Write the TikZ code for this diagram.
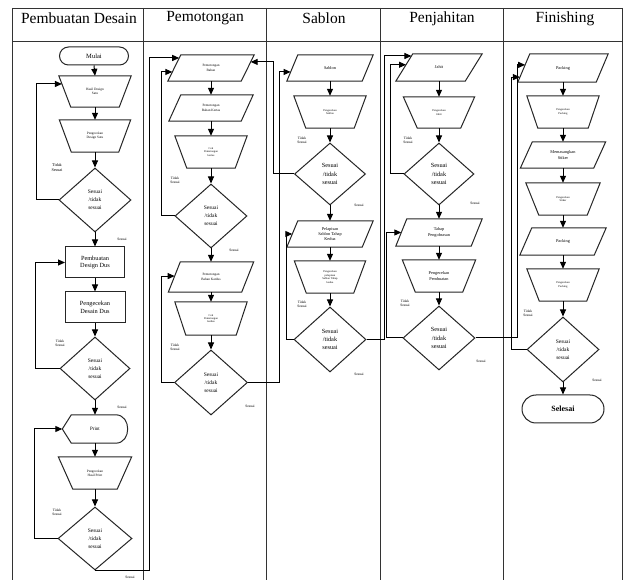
\documentclass[tikz,border=0pt]{standalone}
\usepackage{fontspec}
\setmainfont{Liberation Serif}
\usetikzlibrary{shapes.geometric,arrows.meta,calc}
\newcommand\trapout[2]{\draw[shp] (#1.north west) -- (#1.north east) -- ([xshift=-#2pt]#1.south east) -- ([xshift=#2pt]#1.south west) -- cycle;}
\newcommand\parout[2]{\draw[shp] ([xshift=#2pt]#1.north west) -- (#1.north east) -- ([xshift=-#2pt]#1.south east) -- (#1.south west) -- cycle;}
\begin{document}
\begin{tikzpicture}[x=1pt,y=-1pt,
  frame/.style={line width=0.9pt,draw=black!80},
  shp/.style={line width=1pt,draw=black!85},
  arr/.style={line width=1pt,draw=black,-{Triangle[length=7pt,width=6pt]}},
  box/.style={rectangle,draw=none,inner sep=0pt,align=center},
  rbox/.style={rectangle,draw=black!85,line width=1pt,inner sep=0pt,align=center},
  dia/.style={diamond,draw=black!85,line width=1pt,inner sep=0pt,align=center},
  term/.style={rectangle,draw=black!85,line width=1pt,inner sep=0pt,align=center},
  lbl/.style={inner sep=0pt,align=center,font=\fontsize{3.6}{4.3}\selectfont},
  hd/.style={inner sep=0pt,font=\fontsize{15.5}{18}\selectfont},
  fa/.style={font=\fontsize{2.8}{3.4}\selectfont},
  fb/.style={font=\fontsize{3.4}{4.2}\selectfont},
  fc/.style={font=\fontsize{4.3}{5.2}\selectfont},
  fd/.style={font=\fontsize{5.5}{8}\selectfont},
  fe/.style={font=\fontsize{6.3}{8.3}\selectfont},
  ff/.style={font=\fontsize{6.3}{7.5}\selectfont}]
\useasboundingbox (0,0) rectangle (625,580);
\fill[white] (0,0) rectangle (625,580);
% frame
\draw[frame] (12,8) -- (622,8);
\draw[frame] (12,41) -- (622,41);
\foreach \x in {12,143,266,380,503,622} \draw[frame] (\x,8) -- (\x,580);
\node[hd] (h1) at (79,18.5) {Pembuatan Desain};
\node[hd] (h2) at (205,18.5) {Pemotongan};
\node[hd] (h3) at (324,18.5) {Sablon};
\node[hd] (h4) at (442,18.5) {Penjahitan};
\node[hd] (h5) at (565,18.5) {Finishing};

% lane 1
\node[term,rounded corners=9pt,minimum width=69pt,minimum height=18pt,font=\fontsize{6.5}{7.8}\selectfont] (mulai) at (94,56) {Mulai};
\node[box,minimum width=72pt,minimum height=31pt,fb] (t1) at (95,91.5) {Hasil Design\\Satu}; \trapout{t1}{12}
\node[box,minimum width=71pt,minimum height=32pt,fb] (t2) at (95,136) {Pengecekan\\Design Satu}; \trapout{t2}{12}
\node[dia,minimum width=72pt,minimum height=64pt,fd] (d1) at (95,200) {Sesuai\\/tidak\\sesuai};
\node[rbox,minimum width=59pt,minimum height=31pt,ff] (r1) at (95,262.5) {Pembuatan\\Design Dus};
\node[rbox,minimum width=60pt,minimum height=31pt,ff] (r2) at (95,307.5) {Pengecekan\\Desain Dus};
\node[dia,minimum width=70pt,minimum height=63pt,fd] (d2) at (95,368.5) {Sesuai\\/tidak\\sesuai};
\node[box,minimum width=65pt,minimum height=28pt,font=\fontsize{5}{6}\selectfont] (pr) at (95,429) {Print};
\draw[shp] (pr.west) -- ([xshift=9pt]pr.north west) -- ([xshift=-12pt]pr.north east) .. controls +(16,0) and +(16,0) .. ([xshift=-12pt]pr.south east) -- ([xshift=9pt]pr.south west) -- cycle;
\node[box,minimum width=73pt,minimum height=32pt,fb] (t3) at (95,473) {Pengecekan\\Hasil Print}; \trapout{t3}{14.5}
\node[dia,minimum width=74pt,minimum height=63pt,fd] (d3) at (95,538.5) {Sesuai\\/tidak\\sesuai};
\node[lbl,font=\fontsize{4.2}{5}\selectfont] (l1) at (57,168) {Tidak\\Sesuai};
\node[lbl] (l2) at (122,239) {Sesuai};
\node[lbl] (l3) at (60,343) {Tidak\\Sesuai};
\node[lbl] (l4) at (122,407) {Sesuai};
\node[lbl] (l5) at (57,512) {Tidak\\Sesuai};
\node[lbl] (l6) at (130,577) {Sesuai};

% lane 2
\node[box,minimum width=86pt,minimum height=26pt,fb] (pb) at (211,68) {Pemotongan\\Bahan}; \parout{pb}{13}
\node[box,minimum width=84pt,minimum height=26pt,fb] (pbk) at (211,108) {Pemotongan\\Bahan Kertas}; \parout{pbk}{12}
\node[box,minimum width=72pt,minimum height=32pt,fa] (c1) at (211,152) {Cek\\Pemotongan\\kertas}; \trapout{c1}{12}
\node[dia,minimum width=72pt,minimum height=64pt,fd] (e1) at (211,216) {Sesuai\\/tidak\\sesuai};
\node[box,minimum width=85pt,minimum height=30pt,fb] (pbk2) at (211,277) {Pemotongan\\Bahan Kardus}; \parout{pbk2}{12}
\node[box,minimum width=72pt,minimum height=33pt,fa] (c2) at (211,318.5) {Cek\\Pemotongan\\kardus}; \trapout{c2}{11}
\node[dia,minimum width=73pt,minimum height=65pt,fd] (e2) at (211,382.5) {Sesuai\\/tidak\\sesuai};
\node[lbl] (l7) at (175,180) {Tidak\\Sesuai};
\node[lbl] (l8) at (234,250) {Sesuai};
\node[lbl] (l9) at (175,347) {Tidak\\Sesuai};
\node[lbl] (l10) at (250,406) {Sesuai};

% lane 3
\node[box,minimum width=86pt,minimum height=26pt,fc] (sab) at (330,68) {Sablon}; \parout{sab}{11}
\node[box,minimum width=72pt,minimum height=32pt,fa] (cs1) at (330,112) {Pengecekan\\Sablon}; \trapout{cs1}{12}
\node[dia,minimum width=71pt,minimum height=62pt,fe] (f1) at (330,174) {Sesuai\\/tidak\\sesuai};
\node[box,minimum width=86pt,minimum height=26pt,fc] (pel) at (330,234) {Pelapisan\\Sablon Tahap\\Kedua}; \parout{pel}{11}
\node[box,minimum width=71pt,minimum height=32pt,fa] (cs2) at (330,277) {Pengecekan\\pelapisan\\Sablon Tahap\\kedua}; \trapout{cs2}{12}
\node[dia,minimum width=72pt,minimum height=65pt,fe] (f2) at (330,339.5) {Sesuai\\/tidak\\sesuai};
\node[lbl] (l11) at (302,140) {Tidak\\Sesuai};
\node[lbl] (l12) at (359,205) {Sesuai};
\node[lbl] (l13) at (302,304) {Tidak\\Sesuai};
\node[lbl] (l14) at (359,374) {Sesuai};

% lane 4
\node[box,minimum width=86pt,minimum height=27pt,fc] (jh) at (439,67.5) {Jahit}; \parout{jh}{17}
\node[box,minimum width=71pt,minimum height=31pt,fa] (cj1) at (439,112.5) {Pengecekan\\Jahit}; \trapout{cj1}{14}
\node[dia,minimum width=70pt,minimum height=62pt,fe] (g1) at (439,174) {Sesuai\\/tidak\\sesuai};
\node[box,minimum width=86pt,minimum height=27pt,fc] (th) at (439,232.5) {Tahap\\Pengobrasan}; \parout{th}{11}
\node[box,minimum width=73pt,minimum height=32pt,fc] (cj2) at (439,276) {Pengecekan\\Pembuatan}; \trapout{cj2}{13}
\node[dia,minimum width=72pt,minimum height=64pt,fe] (g2) at (439,338) {Sesuai\\/tidak\\sesuai};
\node[lbl] (l15) at (408,140) {Tidak\\Sesuai};
\node[lbl] (l16) at (475,203) {Sesuai};
\node[lbl] (l17) at (405,303) {Tidak\\Sesuai};
\node[lbl] (l18) at (481,361) {Sesuai};

% lane 5
\node[box,minimum width=90pt,minimum height=28pt,fc] (pk1) at (563,68) {Packing}; \parout{pk1}{12}
\node[box,minimum width=72pt,minimum height=32pt,fa] (k1) at (563,112) {Pengecekan\\Packing}; \trapout{k1}{11}
\node[box,minimum width=85pt,minimum height=26pt,fc] (pk2) at (563,155) {Memasangkan\\Stiker}; \parout{pk2}{12}
\node[box,minimum width=74pt,minimum height=32pt,fa] (k2) at (563,199) {Pengecekan\\Stiker}; \trapout{k2}{13}
\node[box,minimum width=86pt,minimum height=27pt,fc] (pk3) at (563,241.5) {Packing}; \parout{pk3}{12}
\node[box,minimum width=72pt,minimum height=32pt,fa] (k3) at (563,285) {Pengecekan\\Packing}; \trapout{k3}{12.5}
\node[dia,minimum width=72pt,minimum height=65pt,fd] (hd1) at (563,349.5) {Sesuai\\/tidak\\sesuai};
\node[term,rounded corners=14pt,minimum width=82pt,minimum height=28pt,font=\fontsize{8}{9}\selectfont\bfseries] (sel) at (563,409) {Selesai};
\node[lbl] (l19) at (528,313) {Tidak\\Sesuai};
\node[lbl] (l20) at (597,380) {Sesuai};

% lane 1 connectors
\draw[arr] (mulai.south) -- (t1.north);
\draw[arr] (t1.south) -- (t2.north);
\draw[arr] (t2.south) -- (d1.north);
\draw[arr] (d1.south) -- (r1.north);
\draw[arr] (r1.south) -- (r2.north);
\draw[arr] (r2.south) -- (d2.north);
\draw[arr] (d2.south) -- (pr.north);
\draw[arr] (pr.south) -- (t3.north);
\draw[arr] (t3.south) -- (d3.north);
\coordinate (t1in) at ($(t1.north west)!0.26!([xshift=12pt]t1.south west)$);
\draw[arr] (d1.west) -- ++(-22,0) |- (t1in);
\draw[arr] (d2.west) -- ++(-24,0) |- (r1.west);
\draw[arr] (d3.west) -- ++(-23,0) |- (pr.west);
\coordinate (pbinA) at ($([xshift=13pt]pb.north west)!0.12!(pb.south west)$);
\draw[arr] (d3.south) -- ++(54,0) |- (pbinA);

% lane 2 connectors
\draw[arr] (pb.south) -- (pbk.north);
\draw[arr] (pbk.south) -- (c1.north);
\draw[arr] (c1.south) -- (e1.north);
\draw[arr] (e1.south) -- (pbk2.north);
\draw[arr] (pbk2.south) -- (c2.north);
\draw[arr] (c2.south) -- (e2.north);
\coordinate (pbinB) at ($([xshift=13pt]pb.north west)!0.65!(pb.south west)$);
\draw[arr] (e1.west) -- ++(-13,0) |- (pbinB);
\coordinate (pbkin) at ($([xshift=12pt]pbk2.north west)!0.47!(pbk2.south west)$);
\draw[arr] (e2.west) -- ++(-12.5,0) |- (pbkin);
\coordinate (sabin) at ($([xshift=11pt]sab.north west)!0.65!(sab.south west)$);
\draw[arr] (e2.east) -- ++(31.5,0) |- (sabin);

% lane 3 connectors
\draw[arr] (sab.south) -- (cs1.north);
\draw[arr] (cs1.south) -- (f1.north);
\draw[arr] (f1.south) -- (pel.north);
\draw[arr] (pel.south) -- (cs2.north);
\draw[arr] (cs2.south) -- (f2.north);
\coordinate (pbout) at ($(pb.north east)!0.27!([xshift=-13pt]pb.south east)$);
\draw[arr] (f1.west) -- ++(-20.5,0) |- (pbout);
\coordinate (pelin) at ($([xshift=11pt]pel.north west)!0.5!(pel.south west)$);
\draw[arr] (f2.west) -- ++(-7,0) |- (pelin);
\coordinate (jhinA) at ($([xshift=17pt]jh.north west)!0.08!(jh.south west)$);
\draw[arr] (f2.east) -- ++(18,0) |- (jhinA);

% lane 4 connectors
\draw[arr] (jh.south) -- (cj1.north);
\draw[arr] (cj1.south) -- (g1.north);
\draw[arr] (g1.south) -- (th.north);
\draw[arr] (th.south) -- (cj2.north);
\draw[arr] (cj2.south) -- (g2.north);
\coordinate (jhinB) at ($([xshift=17pt]jh.north west)!0.4!(jh.south west)$);
\draw[arr] (g1.west) -- ++(-13,0) |- (jhinB);
\coordinate (thin) at ($([xshift=11pt]th.north west)!0.5!(th.south west)$);
\draw[arr] (g2.west) -- ++(-16,0) |- (thin);
\coordinate (pkinA) at ($([xshift=12pt]pk1.north west)!0.39!(pk1.south west)$);
\draw[arr] (g2.east) -- ++(42,0) |- (pkinA);

% lane 5 connectors
\draw[arr] (pk1.south) -- (k1.north);
\draw[arr] (k1.south) -- (pk2.north);
\draw[arr] (pk2.south) -- (k2.north);
\draw[arr] (k2.south) -- (pk3.north);
\draw[arr] (pk3.south) -- (k3.north);
\draw[arr] (k3.south) -- (hd1.north);
\draw[arr] (hd1.south) -- (sel.north);
\coordinate (pkinB) at ($([xshift=12pt]pk1.north west)!0.82!(pk1.south west)$);
\draw[arr] (hd1.west) -- ++(-15,0) |- (pkinB);
\end{tikzpicture}
\end{document}
